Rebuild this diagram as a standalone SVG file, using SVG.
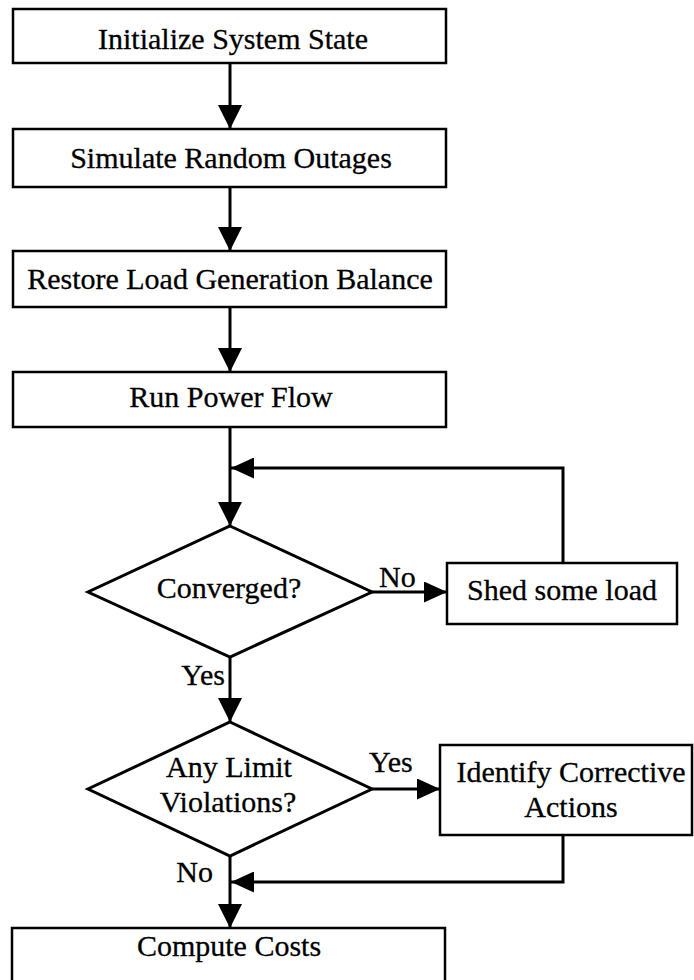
<svg xmlns="http://www.w3.org/2000/svg" width="694" height="980" viewBox="0 0 694 980">
  <style>
    .box { fill: #fff; stroke: #000; stroke-width: 2.5; }
    .dia { fill: #fff; stroke: #000; stroke-width: 3; stroke-linejoin: miter; }
    .lbl { font-family: "Liberation Serif", "Times New Roman", serif; font-size: 30px; fill: #000; stroke: #000; stroke-width: 0.3; }
    .mid { text-anchor: middle; }
    .end { text-anchor: end; }
    .wire { fill: none; stroke: #000; stroke-width: 3; }
  </style>
  <defs>
    <marker id="head" viewBox="0 0 24 24" markerWidth="24" markerHeight="24" refX="24" refY="12" orient="auto" markerUnits="userSpaceOnUse">
      <path d="M0,0 L24,12 L0,24 z" fill="#000"/>
    </marker>
    <marker id="headS" viewBox="0 0 23 21" markerWidth="23" markerHeight="21" refX="23" refY="10.5" orient="auto" markerUnits="userSpaceOnUse">
      <path d="M0,0 L23,10.5 L0,21 z" fill="#000"/>
    </marker>
  </defs>

  <rect width="694" height="980" fill="#fff"/>

  <!-- connectors -->
  <g id="connectors">
    <line class="wire" x1="230" y1="63" x2="230" y2="129" marker-end="url(#head)"/>
    <line class="wire" x1="230" y1="187" x2="230" y2="251" marker-end="url(#head)"/>
    <line class="wire" x1="230" y1="307" x2="230" y2="372" marker-end="url(#head)"/>
    <line class="wire" x1="230" y1="427" x2="230" y2="526" marker-end="url(#head)"/>
    <polyline class="wire" points="563,563 563,468 231,468" marker-end="url(#headS)"/>
    <line class="wire" x1="372" y1="592" x2="447" y2="592" marker-end="url(#headS)"/>
    <line class="wire" x1="230" y1="657" x2="230" y2="722" marker-end="url(#head)"/>
    <line class="wire" x1="372" y1="789" x2="440" y2="789" marker-end="url(#headS)"/>
    <polyline class="wire" points="563,835 563,882 231,882" marker-end="url(#headS)"/>
    <line class="wire" x1="230" y1="856" x2="230" y2="928" marker-end="url(#head)"/>
    <text class="lbl" x="379" y="587">No</text>
    <text class="lbl end" x="225" y="685">Yes</text>
    <text class="lbl" x="369" y="772">Yes</text>
    <text class="lbl end" x="213" y="882">No</text>
  </g>

  <g id="init">
    <rect class="box" x="13" y="9" width="433" height="54"/>
    <text class="lbl mid" x="233" y="49">Initialize System State</text>
  </g>

  <g id="outages">
    <rect class="box" x="13" y="129" width="433" height="58"/>
    <text class="lbl mid" x="231" y="168">Simulate Random Outages</text>
  </g>

  <g id="balance">
    <rect class="box" x="13" y="251" width="433" height="56"/>
    <text class="lbl mid" x="230" y="289">Restore Load Generation Balance</text>
  </g>

  <g id="powerflow">
    <rect class="box" x="13" y="372" width="433" height="55"/>
    <text class="lbl mid" x="231" y="407">Run Power Flow</text>
  </g>

  <g id="converged">
    <polygon class="dia" points="230,526 372,592 230,657 88,592"/>
    <text class="lbl mid" x="229" y="598">Converged?</text>
  </g>

  <g id="shed">
    <rect class="box" x="447" y="563" width="230" height="61"/>
    <text class="lbl mid" x="562" y="600">Shed some load</text>
  </g>

  <g id="violations">
    <polygon class="dia" points="230,722 372,789 230,856 88,789"/>
    <text class="lbl mid" x="229" y="777">Any Limit</text>
    <text class="lbl mid" x="228" y="812">Violations?</text>
  </g>

  <g id="corrective">
    <rect class="box" x="440" y="745" width="252" height="90"/>
    <text class="lbl mid" x="571" y="782">Identify Corrective</text>
    <text class="lbl mid" x="571" y="817">Actions</text>
  </g>

  <g id="costs">
    <rect class="box" x="12" y="928" width="433" height="70"/>
    <text class="lbl mid" x="229" y="956">Compute Costs</text>
  </g>
</svg>
